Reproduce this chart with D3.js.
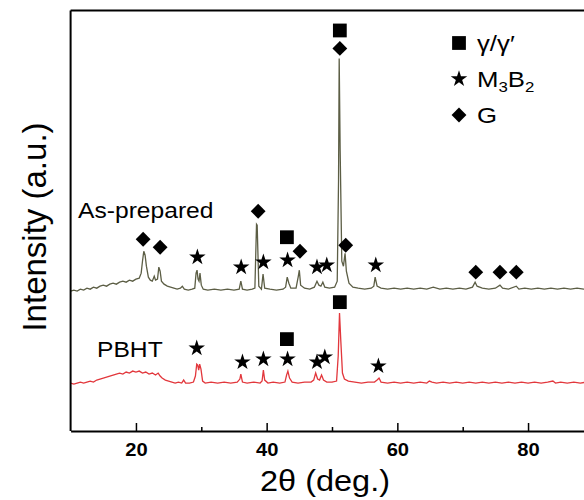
<!DOCTYPE html>
<html>
<head>
<meta charset="utf-8">
<script src="https://d3js.org/d3.v7.min.js"></script>
<style>
	body{margin:0;background:#fff;}
	svg text{font-family:"Liberation Sans",Arial,sans-serif;}
</style>
</head>
<body>
<div id="chart"></div>
<script>
/* XRD patterns, As-prepared vs PBHT
 * intensities are in a.u., already stacked (As-prepared sits above PBHT)
 * */

// [2theta, intensity]
const asPrepared = [
	[10,140],[10.5,141],[11,140],[11.5,142],[12,141],[12.5,143],[13,142],[13.5,144],[14,143],[14.5,145],
	[15,146],[15.5,145],[16,147],[16.5,148],[17,147],[17.5,149],[18,150],[18.5,149],[19,151],[19.5,150],
	[20,152],[20.5,153],[20.8,158],[21.0,170],[21.2,180],[21.4,176],[21.6,165],[21.9,154],[22.2,151],[22.5,150],
	[22.8,155],[23.0,151],[23.3,152],[23.5,164],[23.7,160],[23.9,150],[24.3,147],[24.8,145],[25.3,144],[25.8,143],
	[26.3,142],[26.8,143],[27.1,145],[27.4,142],[28,141],[28.6,142],[29.0,143],[29.2,158],[29.35,161],[29.5,152],
	[29.65,150],[29.8,158],[30.0,146],[30.3,142],[31,141],[32,142],[33,141],[34,142],[35,141],[35.8,142],
	[36.05,150],[36.3,142],[37,141],[37.8,142],[38.2,143],[38.45,207],[38.55,206],[38.8,145],[39.2,142],[39.45,157],
	[39.7,143],[40.5,142],[41.5,141],[42.5,142],[42.9,144],[43.15,154],[43.4,148],[43.7,143],[44.5,143],[44.85,155],
	[45.0,161],[45.2,146],[45.8,143],[46.6,142],[47.3,144],[47.7,150],[48.0,146],[48.3,145],[48.6,149],[48.9,144],
	[49.6,143],[50.4,144],[50.8,150],[51.0,250],[51.1,373],[51.25,280],[51.5,170],[51.75,165],[52.0,178],[52.2,160],
	[52.6,148],[53.2,144],[54,143],[55,142],[56,143],[56.4,145],[56.6,154],[56.9,145],[57.5,143],[58.5,142],
	[59.5,143],[60.5,142],[61.5,143],[62.5,142],[63.5,143],[64.5,142],[65.5,144],[66.5,142],[67.5,143],[68.5,142],
	[69.5,143],[70.5,142],[71.5,144],[71.9,149],[72.2,145],[73,143],[74,142],[75,143],[75.7,146],[76.1,143],
	[77,142],[78.2,145],[78.6,142],[79.5,143],[80.5,142],[81.5,143],[82.5,142],[83.5,143],[84.5,142],[85.5,143],
	[86.5,142],[87.5,143],[88.5,142],[89.5,143],[90,142]
]
const pbht = [
	[10,48],[10.5,47],[11,48],[11.5,49],[12,48],[12.5,49],[13,50],[13.5,49],[14,51],[14.5,52],
	[15,53],[15.5,54],[16,55],[16.5,56],[17,57],[17.5,58],[18,57],[18.5,59],[19,58],[19.5,60],
	[20,59],[20.5,60],[21,58],[21.5,59],[22,57],[22.5,58],[23,56],[23.4,58],[23.7,55],[24,53],
	[24.5,51],[25,50],[25.5,49],[26,48],[26.5,49],[27,48],[27.3,51],[27.6,48],[28.2,48],[28.8,49],
	[29.1,55],[29.3,67],[29.45,66],[29.6,61],[29.75,67],[29.95,62],[30.2,50],[30.6,48],[31.5,49],[32.5,48],
	[33.5,49],[34.5,48],[35.5,49],[35.9,52],[36.05,57],[36.3,49],[37,48],[38,49],[39,48],[39.3,50],
	[39.5,61],[39.7,51],[40.2,48],[41,49],[42,48],[42.8,49],[43.05,56],[43.25,60],[43.5,53],[43.9,49],
	[44.8,48],[45.8,49],[46.8,49],[47.2,51],[47.5,58],[47.8,52],[48.1,51],[48.4,56],[48.7,51],[49.2,49],
	[50,49],[50.7,50],[50.95,75],[51.15,118],[51.35,90],[51.6,58],[51.9,52],[52.5,50],[53.5,49],[54.5,48],
	[55.5,49],[56.5,49],[56.9,51],[57.2,53],[57.5,49],[58.5,48],[59.5,49],[60.5,48],[61.5,49],[62.5,48],
	[63.5,49],[64.5,48],[64.9,50],[65.3,49],[66,48],[67,49],[68,48],[69,49],[70,48],[71,49],
	[72,48],[73,49],[74,48],[75,49],[76,48],[77,49],[78,48],[79,49],[80,48],[81,49],
	[82,48],[83,49],[83.8,50],[84.2,48],[85,49],[86,48],[87,49],[88,48],[89,49],[90,48]
]

// phase markers: [phase, 2theta, intensity where the symbol sits]
const asPreparedMarks = [
	['G',21.1,192],['G',23.7,184],['M3B2',29.4,174],['M3B2',36.1,164],['G',38.7,220],
	['M3B2',39.5,169],['gamma',43.1,194],['M3B2',43.2,171],['G',45.1,180],['M3B2',47.7,164],
	['M3B2',49.2,166],['gamma',51.2,401],['G',51.2,383],['G',52.1,186],['M3B2',56.7,166],
	['G',72.0,159],['G',75.7,159],['G',78.2,159]
]
const pbhtMarks = [
	['M3B2',29.3,83],['M3B2',36.3,69],['M3B2',39.5,72],['gamma',43.1,92],['M3B2',43.2,72],
	['M3B2',47.7,69],['M3B2',48.9,74],['gamma',51.2,129],['M3B2',57.1,65]
]

const xTicks = [20,40,60,80]
const xMinorTicks = [30,50,70]
const sampleNames = ['As-prepared','PBHT']
const legendLabels = ['γ/γ′','M3B2','G']

const width = 584
const height = 500
const margin = {left:70.6, top:10.5, bottom:69}
const plotW = 80*6.535
const plotH = height - margin.top - margin.bottom
//the source figure is a bit wider than tall, so the text gets stretched
const SX = 1.12

const svg = d3.select('#chart').append('svg')
	.attr('width',width)
	.attr('height',height)

const x = d3.scaleLinear().domain([10,90]).range([margin.left,margin.left+plotW])
const y = d3.scaleLinear().domain([0,421]).range([margin.top+plotH,margin.top])

//symbols
const symbolOf = {
	gamma: d3.symbol().type(d3.symbolSquare).size(190),
	M3B2: d3.symbol().type(d3.symbolStar).size(85),
	G: d3.symbol().type(d3.symbolSquare).size(110)
}
function drawMark(g,phase,px,py){
	g.append('path')
		.attr('d',symbolOf[phase]())
		.attr('fill','#000')
		.attr('transform',`translate(${px},${py})` + (phase==='G' ? ' rotate(45)' : ''))
}
function addText(g,px,py,size,anchor){
	return g.append('text')
		.attr('transform',`translate(${px},${py}) scale(${SX},1)`)
		.attr('text-anchor',anchor || 'start')
		.attr('font-size',size)
}

//lines
const line = d3.line().x(d => x(d[0])).y(d => y(d[1]))
svg.append('path')
	.datum(asPrepared)
	.attr('d',line)
	.attr('fill','none')
	.attr('stroke','#5c5e45')
	.attr('stroke-width',1.3)
svg.append('path')
	.datum(pbht)
	.attr('d',line)
	.attr('fill','none')
	.attr('stroke','#e2373c')
	.attr('stroke-width',1.3)

//markers
const markG = svg.append('g')
asPreparedMarks.concat(pbhtMarks).forEach(function(m){
	drawMark(markG,m[0],x(m[1]),y(m[2]))
})

//frame: left + top line, bottom axis with inward ticks
svg.append('line')
	.attr('x1',margin.left).attr('x2',margin.left)
	.attr('y1',margin.top).attr('y2',margin.top+plotH)
	.attr('stroke','#000').attr('stroke-width',2)
svg.append('line')
	.attr('x1',margin.left).attr('x2',width)
	.attr('y1',margin.top).attr('y2',margin.top)
	.attr('stroke','#000').attr('stroke-width',2)

const xAxis = svg.append('g')
	.attr('transform',`translate(0,${margin.top+plotH})`)
	.call(d3.axisBottom(x).tickValues(xTicks).tickSize(-8).tickPadding(12).tickSizeOuter(0))
xAxis.select('.domain').attr('stroke-width',2)
xAxis.selectAll('.tick line').attr('stroke-width',1.5)
xAxis.selectAll('.tick text')
	.attr('font-size',18)
	.attr('font-weight','bold')
	.attr('fill','#000')
	.attr('transform',`scale(${SX},1)`)
	.attr('font-family','"Liberation Sans",Arial,sans-serif')
svg.append('g')
	.attr('transform',`translate(0,${margin.top+plotH})`)
	.call(d3.axisBottom(x).tickValues(xMinorTicks).tickSize(-4).tickFormat(''))
	.call(g => g.select('.domain').remove())
	.selectAll('.tick line').attr('stroke-width',1.5)

//axis titles
addText(svg,325,491,29,'middle').text('2θ (deg.)')
svg.append('text')
	.attr('transform','translate(46,227) rotate(-90)')
	.attr('text-anchor','middle')
	.attr('font-size',33)
	.text('Intensity (a.u.)')

//sample names
addText(svg,78,218,22).text(sampleNames[0])
addText(svg,97,357,22).text(sampleNames[1])

//legend
const legend = svg.append('g')
const legendKeys = ['gamma','M3B2','G']
legendKeys.forEach(function(k,i){
	const ly = 43 + i*36
	drawMark(legend,k,459,ly)
	const t = addText(legend,477,ly+8,23)
	if(k==='M3B2'){
		t.append('tspan').text('M')
		t.append('tspan').attr('font-size',15).attr('dy',5).text('3')
		t.append('tspan').attr('dy',-5).text('B')
		t.append('tspan').attr('font-size',15).attr('dy',5).text('2')
	}else{
		t.text(legendLabels[i])
	}
})
</script>
</body>
</html>
